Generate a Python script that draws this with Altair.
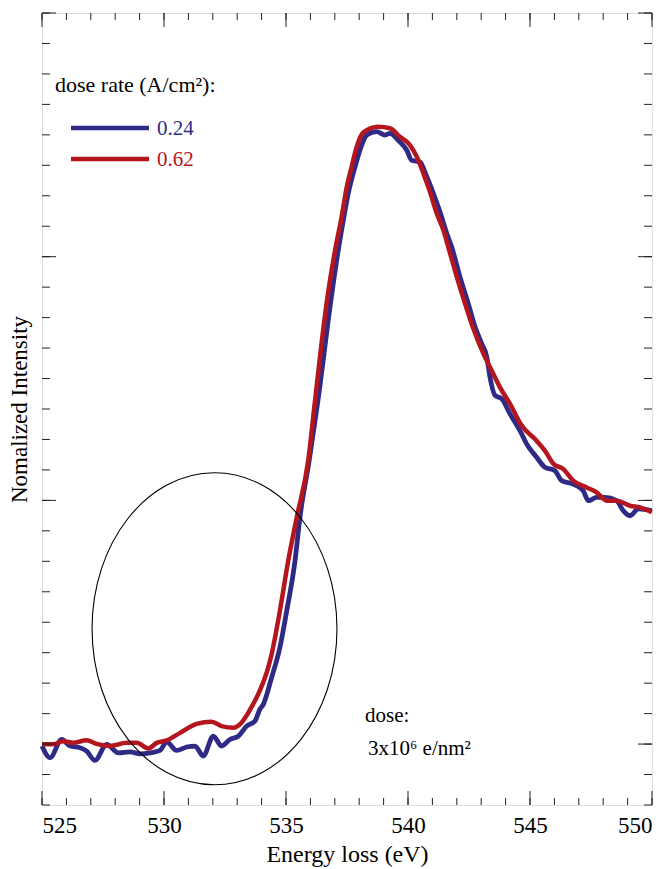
import altair as alt
import pandas as pd

# ---- data ----
energy_024 = [525.0, 525.33, 525.81, 526.15, 526.56, 526.83, 527.17, 527.65, 528.13, 528.61,
              529.02, 529.43, 529.84, 530.11, 530.52, 530.93, 531.27, 531.61, 532.02, 532.36,
              532.70, 533.05, 533.39, 533.73, 533.93, 534.07, 534.41, 534.75, 535.03, 535.37,
              535.57, 535.95, 536.31, 536.84, 537.14, 537.35, 537.55, 537.83, 538.03, 538.31,
              538.72, 539.06, 539.26, 539.60, 539.95, 540.15, 540.49, 540.77, 541.04, 541.31,
              541.59, 541.79, 542.13, 542.47, 542.75, 543.02, 543.23, 543.36, 543.57, 543.84,
              544.18, 544.59, 544.86, 545.27, 545.61, 546.02, 546.30, 546.77, 547.18, 547.39,
              547.73, 548.07, 548.55, 548.82, 549.10, 549.44, 549.99]
intensity_024 = [-0.008, -0.056, 0.019, -0.008, -0.015, -0.029, -0.067, -0.001, -0.036, -0.032,
                 -0.040, -0.036, -0.026, 0.009, -0.026, -0.012, -0.008, -0.049, 0.033, -0.008,
                 0.019, 0.033, 0.074, 0.095, 0.143, 0.163, 0.273, 0.396, 0.547, 0.752,
                 0.930, 1.163, 1.410, 1.821, 2.026, 2.150, 2.259, 2.369, 2.437, 2.499,
                 2.513, 2.499, 2.506, 2.478, 2.437, 2.396, 2.389, 2.328, 2.259, 2.184,
                 2.095, 2.040, 1.917, 1.807, 1.711, 1.643, 1.588, 1.506, 1.430, 1.417,
                 1.355, 1.286, 1.232, 1.177, 1.136, 1.122, 1.081, 1.067, 1.040, 0.999,
                 1.012, 1.012, 0.999, 0.958, 0.937, 0.965, 0.958]

energy_062 = [525.0, 525.46, 525.87, 526.28, 526.83, 527.24, 527.79, 528.47, 528.88, 529.36,
              529.70, 530.11, 530.66, 531.34, 531.95, 532.36, 532.84, 533.11, 533.52, 533.93,
              534.27, 534.41, 534.75, 535.09, 535.44, 535.91, 536.19, 536.68, 537.01, 537.28,
              537.49, 537.69, 537.90, 538.17, 538.78, 539.26, 539.67, 540.08, 540.36, 540.63,
              540.90, 541.18, 541.45, 541.65, 542.00, 542.34, 542.68, 543.09, 543.43, 543.77,
              544.18, 544.66, 545.27, 545.61, 545.96, 546.36, 546.77, 547.32, 547.73, 548.14,
              548.55, 549.10, 549.51, 549.99]
intensity_062 = [-0.001, -0.001, 0.012, 0.005, 0.016, 0.001, -0.008, 0.005, 0.005, -0.018,
                 0.005, 0.015, 0.046, 0.083, 0.092, 0.074, 0.067, 0.081, 0.140, 0.220,
                 0.314, 0.369, 0.547, 0.752, 0.930, 1.163, 1.410, 1.821, 2.026, 2.163,
                 2.286, 2.369, 2.451, 2.510, 2.533, 2.527, 2.492, 2.458, 2.410, 2.342,
                 2.266, 2.177, 2.109, 2.040, 1.917, 1.807, 1.704, 1.602, 1.533, 1.464,
                 1.396, 1.307, 1.245, 1.204, 1.150, 1.129, 1.081, 1.053, 1.033, 0.999,
                 0.999, 0.978, 0.971, 0.951]

x_label_values = [525, 530, 535, 540, 545, 550]
x_minor_ticks = list(range(525, 551))
y_major_ticks = [0, 1, 2, 3]
y_minor_ticks = [-0.25 + 0.125 * i for i in range(27)]

# ellipse annotation (centre in data units)
ellipse_center_x = [532.07]
ellipse_center_y = [0.473]

BLUE = "#2e2a86"
RED = "#b5151d"
FONT = "Liberation Serif"
W, H = 610, 792

xs = alt.Scale(domain=[525, 550], nice=False, zero=False)
ys = alt.Scale(domain=[-0.25, 3.0], nice=False, zero=False)

df024 = pd.DataFrame({"E": energy_024, "I": intensity_024})
df062 = pd.DataFrame({"E": energy_062, "I": intensity_062})

x_axis = alt.Axis(values=x_label_values, ticks=False, tickSize=0, domain=False, grid=False,
                  labelFont=FONT, labelFontSize=23, labelColor="black", labelPadding=9,
                  title="Energy loss (eV)", titleFont=FONT, titleFontSize=24,
                  titleFontWeight="normal", titleColor="black", titlePadding=5)
y_axis = alt.Axis(labels=False, ticks=False, tickSize=0, domain=False, grid=False,
                  title="Nomalized Intensity", titleFont=FONT, titleFontSize=23,
                  titleFontWeight="normal", titleColor="black", titlePadding=11)

line024 = alt.Chart(df024).mark_line(color=BLUE, strokeWidth=4.8, strokeJoin="round",
                                     interpolate="monotone").encode(
    x=alt.X("E:Q", scale=xs, axis=x_axis),
    y=alt.Y("I:Q", scale=ys, axis=y_axis),
)
line062 = alt.Chart(df062).mark_line(color=RED, strokeWidth=4.5, strokeJoin="round",
                                     interpolate="monotone").encode(
    x=alt.X("E:Q", scale=xs),
    y=alt.Y("I:Q", scale=ys),
)

ellipse = alt.Chart(pd.DataFrame({"x": ellipse_center_x, "y": ellipse_center_y})).mark_point(
    shape="M 0,-1 A 0.785,1 0 1,1 0,1 A 0.785,1 0 1,1 0,-1 Z",
    size=97344, filled=False, stroke="black", strokeWidth=1.1, opacity=1,
).encode(x=alt.X("x:Q", scale=xs), y=alt.Y("y:Q", scale=ys))

# inward ticks on all four sides
def xticks(vals, length):
    d = pd.DataFrame({"v": vals})
    b = alt.Chart(d).mark_rule(color="#222222", strokeWidth=1)
    return [
        b.encode(x=alt.X("v:Q", scale=xs), y=alt.value(H), y2=alt.value(H - length)),
        b.encode(x=alt.X("v:Q", scale=xs), y=alt.value(0), y2=alt.value(length)),
    ]

def yticks(vals, length):
    d = pd.DataFrame({"v": vals})
    b = alt.Chart(d).mark_rule(color="#222222", strokeWidth=1)
    return [
        b.encode(y=alt.Y("v:Q", scale=ys), x=alt.value(0), x2=alt.value(length)),
        b.encode(y=alt.Y("v:Q", scale=ys), x=alt.value(W), x2=alt.value(W - length)),
    ]

tick_layers = xticks(x_minor_ticks, 7) + xticks(x_label_values, 14) + \
    yticks(y_minor_ticks, 8) + yticks(y_major_ticks, 14)

def text(t, x, y, color="black", size=21):
    return alt.Chart(pd.DataFrame({"t": [t]})).mark_text(
        align="left", baseline="alphabetic", font=FONT, fontSize=size, color=color
    ).encode(text="t:N", x=alt.value(x), y=alt.value(y))

def legend_line(y, color):
    return alt.Chart(pd.DataFrame({"c": [color]})).mark_rule(color=color, strokeWidth=4.5).encode(
        x=alt.value(29), x2=alt.value(107), y=alt.value(y))

annotations = [
    text("dose rate (A/cm²):", 13, 79, size=22),
    legend_line(115, BLUE),
    legend_line(146, RED),
    text("0.24", 115, 122, BLUE),
    text("0.62", 115, 153, RED),
    text("dose:", 323, 709),
    text("3x10⁶ e/nm²", 326, 742),
]

chart = alt.layer(line024, line062, ellipse, *tick_layers, *annotations).properties(
    width=W, height=H,
    autosize=alt.AutoSizeParams(type="none"),
    padding={"left": 34, "top": 5, "right": 11, "bottom": 64},
).configure_view(stroke="black", strokeWidth=2.5).configure(background="white")

chart.save("out.html", embed_options={"renderer": "svg", "actions": False})
